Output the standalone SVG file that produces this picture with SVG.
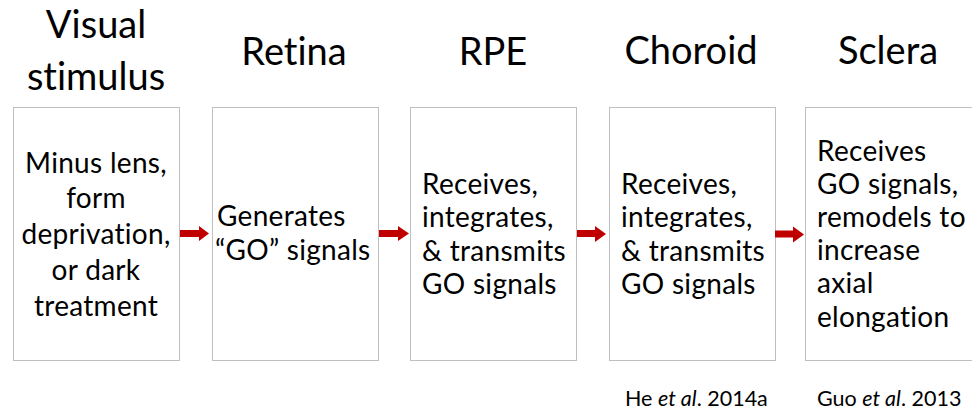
<svg xmlns="http://www.w3.org/2000/svg" width="972" height="413" viewBox="0 0 972 413">
<style>
  text { font-family: Lato, "Open Sans", sans-serif; fill: #000; font-variant-ligatures: none; font-feature-settings: "liga" 0, "clig" 0; }
  .box { fill: #ffffff; stroke: #bfbfbf; stroke-width: 1; }
  .title { font-size: 38px; text-anchor: middle; }
  .body { font-size: 28px; letter-spacing: 0.3px; }
  .mid { text-anchor: middle; }
  .ref { font-size: 21.5px; }
  .arrow { fill: #c00000; }
</style>
<rect width="972" height="413" fill="#ffffff"/>

<g id="stimulus">
  <text class="title" x="96" y="38">Visual</text>
  <text class="title" x="96" y="90">stimulus</text>
  <rect class="box" x="13.5" y="107.5" width="166" height="253"/>
  <text class="body mid" x="96" y="173">Minus lens,</text>
  <text class="body mid" x="96" y="208">form</text>
  <text class="body mid" x="96" y="244">deprivation,</text>
  <text class="body mid" x="96" y="280">or dark</text>
  <text class="body mid" x="96" y="316">treatment</text>
</g>

<g id="retina">
  <text class="title" x="294" y="65">Retina</text>
  <rect class="box" x="212.5" y="107.5" width="166" height="253"/>
  <text class="body" x="217" y="226">Generates</text>
  <text class="body" x="215" y="260">“GO” signals</text>
</g>

<g id="rpe">
  <text class="title" x="493" y="65">RPE</text>
  <rect class="box" x="410.5" y="107.5" width="166" height="253"/>
  <text class="body" x="422" y="193.5">Receives,</text>
  <text class="body" x="422" y="227">integrates,</text>
  <text class="body" x="422" y="260.5">&amp; transmits</text>
  <text class="body" x="422" y="294">GO signals</text>
</g>

<g id="choroid">
  <text class="title" x="691" y="64">Choroid</text>
  <rect class="box" x="609.5" y="107.5" width="166" height="253"/>
  <text class="body" x="621" y="193.5">Receives,</text>
  <text class="body" x="621" y="227">integrates,</text>
  <text class="body" x="621" y="260.5">&amp; transmits</text>
  <text class="body" x="621" y="294">GO signals</text>
  <text class="ref" x="625" y="406">He <tspan font-style="italic">et al</tspan>. 2014a</text>
</g>

<g id="sclera">
  <text class="title" x="888" y="64">Sclera</text>
  <rect class="box" x="805.5" y="107.5" width="170" height="253"/>
  <text class="body" x="817" y="161">Receives</text>
  <text class="body" x="817" y="194">GO signals,</text>
  <text class="body" x="817" y="227">remodels to</text>
  <text class="body" x="817" y="260">increase</text>
  <text class="body" x="817" y="293">axial</text>
  <text class="body" x="817" y="327">elongation</text>
  <text class="ref" x="817" y="406">Guo <tspan font-style="italic">et al</tspan>. 2013</text>
</g>

<g id="connectors">
  <path class="arrow" d="M180,230 H199 V226 L209,233.5 L199,241 V237 H180 Z"/>
  <path class="arrow" d="M379,230 H398 V226 L409,233.5 L398,241 V237 H379 Z"/>
  <path class="arrow" d="M577,230 H595 V226 L606,234 L595,242 V237 H577 Z"/>
  <path class="arrow" d="M775,230.5 H793 V226.5 L804,234.5 L793,242.5 V237.5 H775 Z"/>
</g>
</svg>
